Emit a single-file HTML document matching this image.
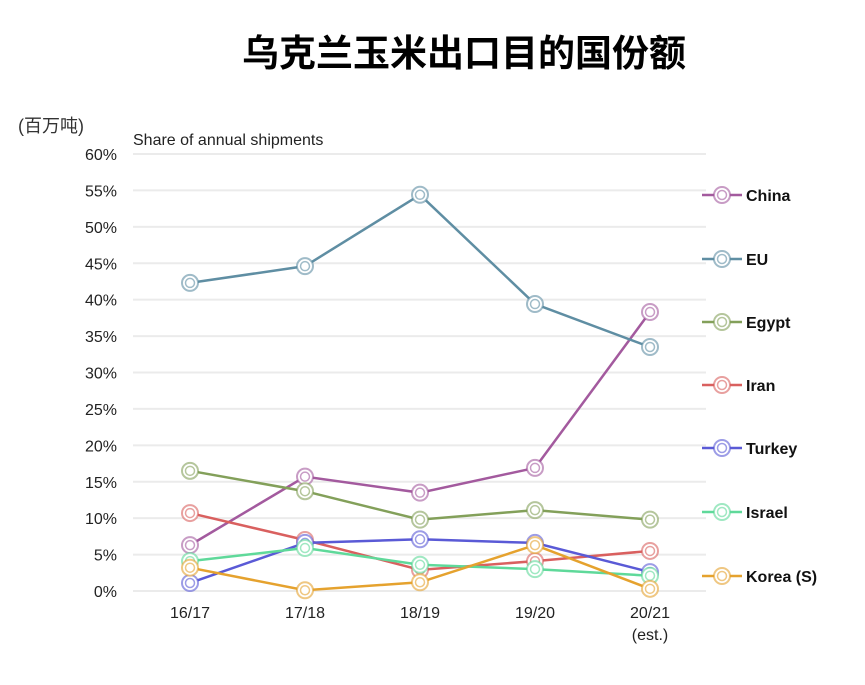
<!DOCTYPE html>
<html><head><meta charset="utf-8"><style>
body{margin:0;background:#fff;width:865px;height:680px;overflow:hidden;font-family:"Liberation Sans","Noto Sans CJK SC",sans-serif}
</style></head><body>
<svg id="chart" width="865" height="680" xmlns="http://www.w3.org/2000/svg">
<text x="464" y="66" text-anchor="middle" font-size="37" font-weight="bold" font-family="'Liberation Sans','Noto Sans CJK SC',sans-serif" fill="#000">乌克兰玉米出口目的国份额</text>
<text x="18" y="132" font-size="18" fill="#333" font-family="'Liberation Sans','Noto Sans CJK SC',sans-serif">(百万吨)</text>
<text x="133" y="145" font-size="16" fill="#222">Share of annual shipments</text>
<g id="grid"></g><g id="series"></g><g id="legend"></g>
</svg>
<script>
const categories=["16/17","17/18","18/19","19/20","20/21"];
const yTicks=[0,5,10,15,20,25,30,35,40,45,50,55,60];
const seriesNames=["China","EU","Egypt","Iran","Turkey","Israel","Korea (S)"];
const seriesColors=["#a35a9e","#5f8ea3","#83a05a","#d9605f","#5a5ad6","#5fd99a","#e5a22e"];
const china=[6.3,15.7,13.5,16.9,38.3];
const eu=[42.3,44.6,54.4,39.4,33.5];
const egypt=[16.5,13.7,9.8,11.1,9.8];
const iran=[10.7,7.0,2.9,4.1,5.5];
const turkey=[1.1,6.6,7.1,6.6,2.6];
const israel=[4.1,5.9,3.6,3.0,2.1];
const korea=[3.2,0.1,1.2,6.3,0.3];
const allSeries=[china,eu,egypt,iran,turkey,israel,korea];
const NS="http://www.w3.org/2000/svg";
const x0=190,dx=115,yZero=591,yTop=154,yMax=60;
const X=i=>x0+i*dx;
const Y=v=>yZero-(v/yMax)*(yZero-yTop);
function mk(tag,attrs,parent){const e=document.createElementNS(NS,tag);for(const k in attrs)e.setAttribute(k,attrs[k]);parent.appendChild(e);return e;}
const grid=document.getElementById('grid');
yTicks.forEach(t=>{
  const l=mk('line',{x1:133,x2:706,y1:Y(t),y2:Y(t),stroke:'#ebebeb','stroke-width':2},grid);
  
  
  const tx=mk('text',{x:117,y:Y(t)+6,'text-anchor':'end','font-size':16,fill:'#222'},grid);
  tx.textContent=t+'%';
  
  
});
categories.forEach((c,i)=>{
  const tx=mk('text',{x:X(i),y:618,'text-anchor':'middle','font-size':16,fill:'#222'},grid);
  tx.textContent=c;
  
  
});
const est=mk('text',{x:X(4),y:640,'text-anchor':'middle','font-size':16,fill:'#222'},grid);
est.textContent='(est.)';


const sg=document.getElementById('series');
function marker(cx,cy,col,parent){
  mk('circle',{cx,cy,r:8,fill:'#fff',stroke:col,'stroke-width':2,'stroke-opacity':0.6},parent);
  mk('circle',{cx,cy,r:4.5,fill:'none',stroke:col,'stroke-width':1.5,'stroke-opacity':0.6},parent);
}
allSeries.forEach((s,si)=>{
  const g=mk('g',{},sg);
  
  
  const pts=s.map((v,i)=>X(i)+','+Y(v)).join(' ');
  const pl=mk('polyline',{points:pts,fill:'none',stroke:seriesColors[si],'stroke-width':2.5},g);
  
  
  s.forEach((v,i)=>marker(X(i),Y(v),seriesColors[si],g));
});
const lg=document.getElementById('legend');
const legendY=[195,259,322,385,448,512,576];
seriesNames.forEach((n,si)=>{
  const g=mk('g',{},lg);
  
  
  mk('line',{x1:702,x2:742,y1:legendY[si],y2:legendY[si],stroke:seriesColors[si],'stroke-width':2.5},g);
  marker(722,legendY[si],seriesColors[si],g);
  const t=mk('text',{x:746,y:legendY[si]+6,'font-size':16,'font-weight':'bold',fill:'#111'},g);
  t.textContent=n;
});
</script>
</body></html>
